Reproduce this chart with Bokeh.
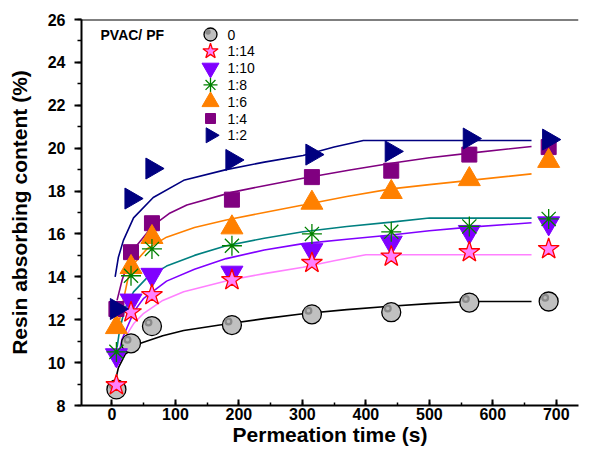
import math
from bokeh.plotting import figure
from bokeh.models import (Range1d, Label, Span, SingleIntervalTicker, ColumnDataSource)
from bokeh.core.properties import value
from bokeh.transform import dodge
from bokeh.embed import file_html
from bokeh.resources import INLINE

# ---------------- data ----------------
time_s = [7, 30, 63, 189, 315, 440, 563, 688]
ratio_labels = ["0", "1:14", "1:10", "1:8", "1:6", "1:4", "1:2"]

rc_0 = [8.75, 10.9, 11.7, 11.75, 12.25, 12.35, 12.8, 12.85]
rc_1_14 = [8.95, 12.35, 13.15, 13.85, 14.65, 14.95, 15.15, 15.3]
rc_1_10 = [10.35, 12.9, 14.1, 14.2, 15.25, 15.6, 16.1, 16.5]
rc_1_8 = [10.5, 14.05, 15.3, 15.45, 16.0, 16.1, 16.35, 16.7]
rc_1_6 = [11.65, 14.45, 15.85, 16.3, 17.45, 17.95, 18.55, 19.4]
rc_1_4 = [12.5, 15.15, 16.5, 17.6, 18.65, 18.95, 19.7, 20.05]
rc_1_2 = [12.5, 17.65, 19.05, 19.45, 19.7, 19.85, 20.45, 20.4]

# fitted curves
fit_t_0 = [5, 10, 21, 45, 80, 113, 180, 240, 301, 370, 438, 500, 564, 661]
fit_y_0 = [9.1, 9.75, 10.4, 10.9, 11.25, 11.5, 11.8, 12.05, 12.28, 12.47, 12.63, 12.75, 12.85, 12.85]
fit_t_1_14 = [5, 10, 15, 21, 35, 50, 80, 113, 186, 240, 301, 350, 400, 661]
fit_y_1_14 = [9.8, 10.4, 10.85, 11.2, 11.85, 12.3, 12.9, 13.3, 13.85, 14.15, 14.45, 14.75, 15.03, 15.03]
fit_t_1_10 = [7, 10, 16, 24, 35, 50, 86, 130, 180, 240, 301, 370, 440, 500, 564, 661]
fit_y_1_10 = [9.8, 10.3, 11.1, 11.65, 12.4, 13.0, 13.8, 14.35, 14.85, 15.25, 15.55, 15.75, 15.95, 16.15, 16.32, 16.52]
fit_t_1_8 = [8, 12, 20, 34, 55, 86, 130, 180, 240, 301, 370, 440, 500, 661]
fit_y_1_8 = [10.7, 11.5, 12.5, 13.3, 13.95, 14.5, 15.0, 15.45, 15.8, 16.1, 16.35, 16.55, 16.74, 16.74]
fit_t_1_6 = [12, 18, 25, 34, 55, 86, 130, 180, 240, 301, 370, 440, 500, 564, 661]
fit_y_1_6 = [12.0, 12.9, 13.9, 14.6, 15.3, 15.85, 16.3, 16.65, 17.0, 17.35, 17.75, 18.1, 18.3, 18.5, 18.8]
fit_t_1_4 = [8, 16, 26, 40, 65, 90, 118, 190, 240, 301, 375, 440, 500, 564, 661]
fit_y_1_4 = [12.9, 13.85, 14.7, 15.5, 16.4, 16.95, 17.35, 17.95, 18.25, 18.6, 18.98, 19.3, 19.55, 19.77, 20.08]
fit_t_1_2 = [5, 10, 18, 34, 65, 113, 180, 240, 301, 350, 396, 661]
fit_y_1_2 = [14.0, 14.9, 15.7, 16.75, 17.7, 18.5, 19.0, 19.35, 19.66, 20.05, 20.36, 20.36]

FONT = "Liberation Sans"
FRAME_W, FRAME_H = 497, 386

p = figure(width=600, height=450, output_backend="svg", toolbar_location=None,
           x_range=Range1d(-48, 735), y_range=Range1d(8, 26),
           min_border_left=81, min_border_right=22, min_border_top=19,
           min_border_bottom=45)
p.xgrid.visible = False
p.ygrid.visible = False
p.outline_line_color = None
# pixel-like ranges used only to place the legend block
p.extra_x_ranges = {"px": Range1d(0, FRAME_W)}
p.extra_y_ranges = {"px": Range1d(FRAME_H, 0)}

# axes
xa = p.xaxis[0]
xa.ticker = SingleIntervalTicker(interval=100, num_minor_ticks=2)
xa.axis_label = "Permeation time (s)"
xa.major_tick_in = 6
xa.major_tick_out = 0
xa.minor_tick_in = 3
xa.minor_tick_out = 0
xa.major_label_standoff = 2
xa.axis_label_standoff = 0

ya = p.yaxis[0]
ya.ticker = SingleIntervalTicker(interval=2, num_minor_ticks=2)
ya.axis_label = "Resin absorbing content (%)"
ya.major_tick_in = 0
ya.major_tick_out = 7
ya.minor_tick_in = 0
ya.minor_tick_out = 4
ya.major_label_standoff = 9
ya.axis_label_standoff = 14

for ax in (xa, ya):
    ax.axis_line_width = 2
    ax.major_tick_line_width = 2
    ax.minor_tick_line_width = 1.5
    ax.major_label_text_font = FONT
    ax.major_label_text_font_style = "bold"
    ax.major_label_text_font_size = "16px"
    ax.major_label_text_color = "black"
    ax.axis_label_text_font = FONT
    ax.axis_label_text_font_style = "bold"
    ax.axis_label_text_font_size = "21px"
    ax.axis_label_text_color = "black"

p.add_layout(Span(location=26, dimension="width", line_color="black", line_width=2))

# fitted curves
curves = [
    (fit_t_0, fit_y_0, "black"),
    (fit_t_1_14, fit_y_1_14, "#ff80ff"),
    (fit_t_1_10, fit_y_1_10, "#8000ff"),
    (fit_t_1_8, fit_y_1_8, "#008080"),
    (fit_t_1_6, fit_y_1_6, "#ff8000"),
    (fit_t_1_4, fit_y_1_4, "#800080"),
    (fit_t_1_2, fit_y_1_2, "#000080"),
]
for t, y, c in curves:
    p.line(t, y, line_color=c, line_width=1.6)

# marker styles: (marker, size, fill, line, line_width, angle, legend size)
styles = {
    "0": ("circle", 19, "#c0c0c0", "black", 1.3, 0, 13),
    "1:14": ("star", 22, "#ff80ff", "#ff0000", 1.3, 0, 16),
    "1:10": ("inverted_triangle", 22, "#8000ff", "#8000ff", 1, 0, 17),
    "1:8": ("asterisk", 20, None, "#008000", 1.3, 0, 14),
    "1:6": ("triangle", 22, "#ff8000", "#ff8000", 1, 0, 17),
    "1:4": ("square", 15, "#800080", "#800080", 1, 0, 10),
    "1:2": ("triangle", 21, "#000080", "#000080", 1, -math.pi / 2, 15),
}
series = {"0": rc_0, "1:14": rc_1_14, "1:10": rc_1_10, "1:8": rc_1_8,
          "1:6": rc_1_6, "1:4": rc_1_4, "1:2": rc_1_2}

def draw(key, x, y, size_idx, **kw):
    m, size, fill, line, lw, ang, lsize = styles[key]
    sz = size if size_idx == 0 else lsize
    return p.scatter(x=x, y=y, marker=m, size=sz, angle=ang, fill_color=fill,
                     line_color=line, line_width=lw, **kw)

# data markers (draw order as in the reference)
src0 = ColumnDataSource(dict(t=time_s, y=rc_0))
draw("0", "t", "y", 0, source=src0)
p.scatter(x=dodge("t", -5.5), y=dodge("y", 0.17), source=src0, marker="circle",
          size=8, fill_color="#8a8a8a", line_color=None)
p.scatter(x=dodge("t", -5.5), y=dodge("y", 0.17), source=src0, marker="circle",
          size=3.5, fill_color="#b8b8b8", line_color=None)
for key in ["1:10", "1:14", "1:4", "1:6", "1:8", "1:2"]:
    draw(key, time_s, series[key], 0)

# legend block (pixel placement inside the frame)
LEG_X, LEG_Y0, LEG_DY, LEG_TXT_X = 129, 15, 16.8, 146
leg_y = [LEG_Y0 + LEG_DY * i for i in range(len(ratio_labels))]
for key, yy in zip(ratio_labels, leg_y):
    draw(key, [LEG_X], [yy], 1, x_range_name="px", y_range_name="px")
    if key == "0":
        p.scatter(x=[LEG_X - 2.5], y=[yy - 2.5], marker="circle", size=5.5,
                  fill_color="#8a8a8a", line_color=None,
                  x_range_name="px", y_range_name="px")
p.text(x=[LEG_TXT_X] * len(ratio_labels), y=leg_y, text=ratio_labels,
       x_range_name="px", y_range_name="px", text_font=value(FONT),
       text_font_size="14px", text_baseline="middle", text_align="left",
       text_color="black")

p.add_layout(Label(x=19, y=FRAME_H - 15, x_units="screen", y_units="screen",
                   text="PVAC/ PF", text_font=FONT, text_font_style="bold",
                   text_font_size="14px", text_baseline="middle", text_color="black"))

open("out.html", "w").write(file_html(p, INLINE))
